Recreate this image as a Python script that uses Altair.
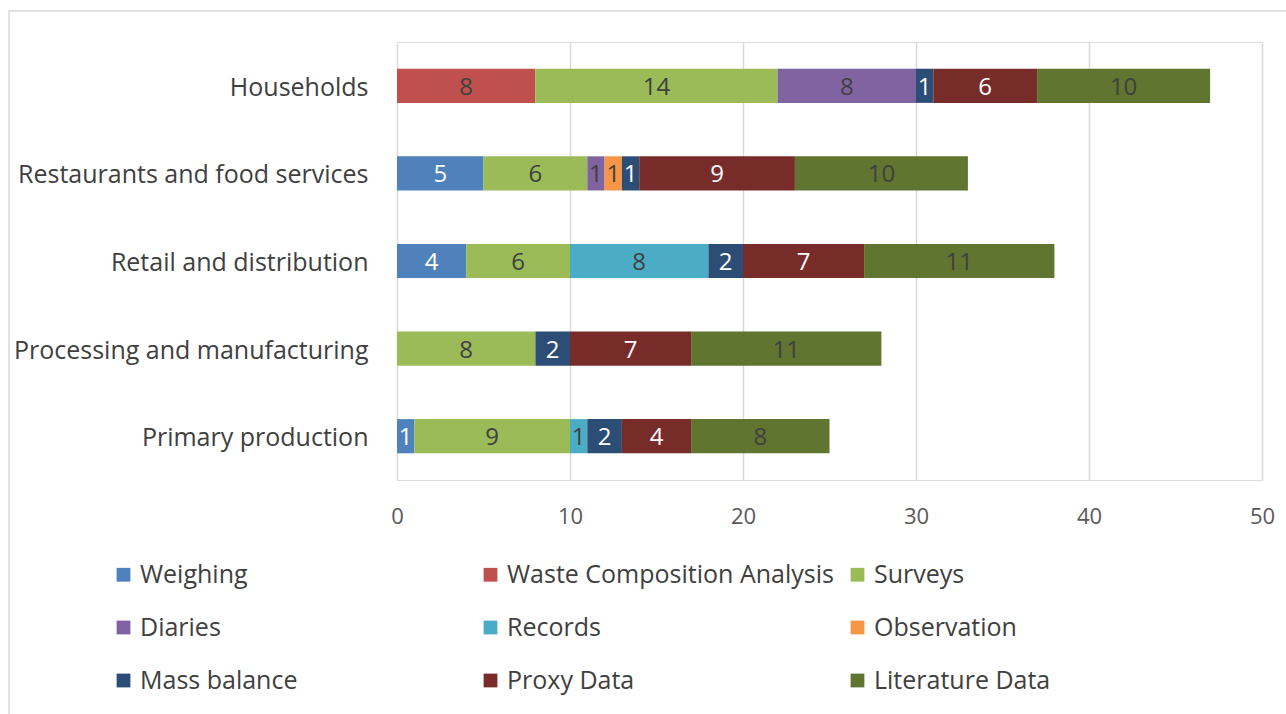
import altair as alt
import pandas as pd

sectors = [
    "Households",
    "Restaurants and food services",
    "Retail and distribution",
    "Processing and manufacturing",
    "Primary production",
]
methods = [
    "Weighing",
    "Waste Composition Analysis",
    "Surveys",
    "Diaries",
    "Records",
    "Observation",
    "Mass balance",
    "Proxy Data",
    "Literature Data",
]
colors = [
    "#4F81BD", "#C0504D", "#9BBB59", "#8064A2", "#4BACC6",
    "#F79646", "#2C4D75", "#772C2A", "#5F7530",
]

# number of studies per method, one value per sector (same order as `sectors`)
weighing = [0, 5, 4, 0, 1]
waste_composition = [8, 0, 0, 0, 0]
surveys = [14, 6, 6, 8, 9]
diaries = [8, 1, 0, 0, 0]
records = [0, 0, 8, 0, 1]
observation = [0, 1, 0, 0, 0]
mass_balance = [1, 1, 2, 2, 2]
proxy_data = [6, 9, 7, 7, 4]
literature_data = [10, 10, 11, 11, 8]

series = [weighing, waste_composition, surveys, diaries, records,
          observation, mass_balance, proxy_data, literature_data]

rows = []
for m_idx, (method, vals) in enumerate(zip(methods, series)):
    for sector, v in zip(sectors, vals):
        if v > 0:
            rows.append({"sector": sector, "method": method, "order": m_idx, "value": v})
df = pd.DataFrame(rows)

PLOT_W, PLOT_H = 865, 438
FONT = "Open Sans"

base = alt.Chart(df).transform_stack(
    stack="value", groupby=["sector"], sort=[{"field": "order"}], as_=["x0", "x1"]
).transform_calculate(mid="(datum.x0 + datum.x1) / 2")

y_enc = alt.Y(
    "sector:N",
    sort=sectors,
    scale=alt.Scale(paddingInner=0.61, paddingOuter=0.305),
    axis=alt.Axis(
        title=None, domain=False, ticks=False, labelPadding=29, labelOffset=2,
        labelFontSize=25, labelColor="#404040", labelFont=FONT, labelLimit=420,
    ),
)

bars = base.mark_bar().encode(
    x=alt.X(
        "x0:Q",
        scale=alt.Scale(domain=[0, 50]),
        axis=alt.Axis(
            title=None, values=[0, 10, 20, 30, 40, 50], domain=False, ticks=False,
            labelFlush=False, labelPadding=26, labelFontSize=22,
            labelColor="#595959", labelFont=FONT,
            grid=True, gridColor="#d9d9d9", gridWidth=1.5,
        ),
    ),
    x2="x1:Q",
    y=y_enc,
    color=alt.Color(
        "method:N",
        sort=methods,
        scale=alt.Scale(domain=methods, range=colors),
        legend=alt.Legend(
            title=None, orient="none", legendX=-286, legendY=520, columns=3,
            direction="horizontal", gridAlign="all", columnPadding=11, rowPadding=27,
            symbolType="square", symbolSize=190, symbolStrokeWidth=0, labelOffset=4,
            labelFontSize=25, labelColor="#404040", labelFont=FONT, labelLimit=500,
        ),
    ),
    order=alt.Order("order:Q"),
)

labels = base.mark_text(fontSize=24, font=FONT, dy=2).encode(
    x=alt.X("mid:Q"),
    y=alt.Y("sector:N", sort=sectors),
    text=alt.Text("value:Q"),
    color=alt.condition(
        "indexof(['Weighing', 'Mass balance', 'Proxy Data'], datum.method) >= 0",
        alt.value("white"),
        alt.value("#404040"),
    ),
)

frame = alt.Chart(pd.DataFrame({"k": [0]})).mark_rect(
    fill=None, stroke="#d9d9d9", strokeWidth=1.5
).encode(
    x=alt.value(-388), x2=alt.value(PLOT_W + 40),
    y=alt.value(-31), y2=alt.value(PLOT_H + 260),
)

chart = alt.layer(frame, bars, labels).properties(
    width=PLOT_W,
    height=PLOT_H,
    autosize=alt.AutoSizeParams(type="none"),
    padding={"left": 397, "top": 42, "right": 1286 - 397 - PLOT_W, "bottom": 714 - 42 - PLOT_H},
).configure_view(stroke=None).configure(background="white")

chart.save("out.html", embed_options={"renderer": "svg", "actions": False})
